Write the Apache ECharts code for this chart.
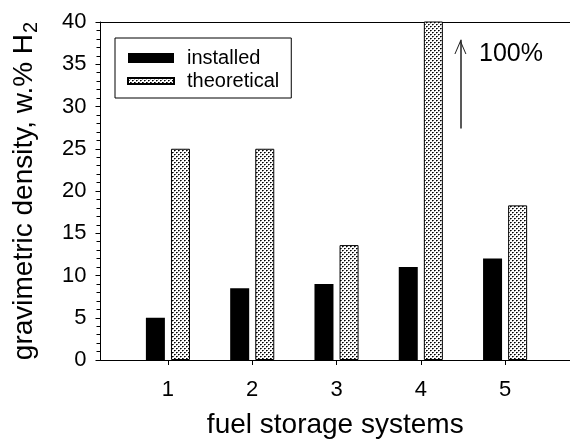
<!DOCTYPE html>
<html>
<head>
<meta charset="utf-8">
<script src="https://cdn.jsdelivr.net/npm/echarts@6/dist/echarts.min.js"></script>
<style>
  html, body { margin: 0; padding: 0; background: #fff; }
  #chart { width: 570px; height: 444px; }
</style>
</head>
<body>
<div id="chart"></div>
<script>
// fuel storage systems 1..5
const systems = [1, 2, 3, 4, 5]
const installed = [5, 8.5, 9, 11, 12]
const theoretical = [25, 25, 13.6, 100, 18.3]
const yTicks = [0, 5, 10, 15, 20, 25, 30, 35, 40]

// dotted fill like the print pattern
const dots = document.createElement('canvas')
dots.width = 4
dots.height = 4
const dctx = dots.getContext('2d')
dctx.fillStyle = '#fff'
dctx.fillRect(0, 0, 4, 4)
dctx.fillStyle = '#000'
dctx.fillRect(0, 0, 1, 1)
dctx.fillRect(2, 2, 1, 1)
dctx.fillStyle = '#555'
dctx.fillRect(1, 0, 1, 1)
dctx.fillRect(3, 2, 1, 1)
dctx.fillStyle = '#aaa'
dctx.fillRect(0, 1, 1, 1)
dctx.fillRect(2, 3, 1, 1)

const font = 'Liberation Sans'
const myChart = echarts.init(document.getElementById('chart'))

const option = {
  animation: false,
  textStyle: { fontFamily: font, color: '#000' },
  grid: { left: 99, right: 0, top: 22, bottom: 80 },
  legend: {
    orient: 'vertical',
    left: 115,
    top: 38,
    padding: [10, 12, 7, 12],
    itemGap: 3,
    itemWidth: 46,
    itemHeight: 10,
    borderColor: '#000',
    borderWidth: 1,
    textStyle: { fontSize: 20, color: '#000', fontFamily: font, padding: [0, 0, 0, 8] },
    data: [
      { name: 'installed', icon: 'rect' },
      { name: 'theoretical', icon: 'path://M0,0 H46 V6 H0 Z' }
    ]
  },
  xAxis: [
    {
      type: 'value',
      min: 0.2,
      max: 5.77,
      name: 'fuel storage systems',
      nameLocation: 'middle',
      nameGap: 51,
      nameTextStyle: { fontSize: 28, color: '#000', fontFamily: font },
      axisLine: { lineStyle: { color: '#000', width: 1 } },
      axisTick: { show: true, inside: false, length: 5, customValues: systems, lineStyle: { color: '#000' } },
      axisLabel: { customValues: systems, fontSize: 22, color: '#000', margin: 19 },
      splitLine: { show: false }
    },
    {
      type: 'value',
      position: 'top',
      min: 0.2,
      max: 5.77,
      axisLine: { show: true, lineStyle: { color: '#000', width: 1 } },
      axisTick: { show: false },
      axisLabel: { show: false },
      splitLine: { show: false }
    }
  ],
  yAxis: {
    type: 'value',
    min: 0,
    max: 40,
    interval: 5,
    name: '{a|gravimetric density, w.% H}{s|2}',
    nameLocation: 'middle',
    nameGap: 60,
    nameRotate: 90,
    nameTextStyle: {
      color: '#000',
      fontFamily: font,
      rich: {
        a: { fontSize: 28, fontFamily: font, color: '#000', lineHeight: 32 },
        s: { fontSize: 20, fontFamily: font, color: '#000', lineHeight: 32, padding: [13, 0, 0, 1] }
      }
    },
    axisLine: { show: true, lineStyle: { color: '#000', width: 1 } },
    axisTick: { show: true, inside: false, length: 5, lineStyle: { color: '#000' } },
    minorTick: { show: true, splitNumber: 5, length: 4, lineStyle: { color: '#000' } },
    axisLabel: { fontSize: 22, color: '#000', margin: 14, customValues: yTicks },
    splitLine: { show: false }
  },
  graphic: [
    {
      type: 'text',
      left: 479,
      top: 42,
      style: { text: '100%', fontSize: 25, fontFamily: font, fill: '#000' }
    }
  ],
  series: [
    {
      name: 'installed',
      type: 'bar',
      barWidth: 19,
      barGap: '32%',
      itemStyle: { color: '#000' },
      data: systems.map((s, i) => [s, installed[i]])
    },
    {
      name: 'theoretical',
      type: 'bar',
      barWidth: 19,
      clip: true,
      itemStyle: { color: { image: dots, repeat: 'repeat' }, borderColor: '#000', borderWidth: 1 },
      data: systems.map((s, i) => [s, theoretical[i]])
    },
    {
      // arrow pointing to the off-scale 100% bar
      name: 'arrow',
      type: 'line',
      data: [],
      silent: true,
      markLine: {
        silent: true,
        symbol: 'none',
        label: { show: false },
        lineStyle: { color: '#222', width: 1.5, type: 'solid' },
        data: [[{ coord: [4.47, 27.4] }, { coord: [4.47, 37.9] }]]
      },
      markPoint: {
        silent: true,
        symbol: 'path://M6,0 L12,14 L11,14 L6,2.5 L1,14 L0,14 Z',
        symbolSize: [12, 14],
        itemStyle: { color: '#222' },
        label: { show: false },
        data: [{ coord: [4.47, 37.05] }]
      }
    }
  ]
}

myChart.setOption(option)
window.addEventListener('resize', () => myChart.resize())
</script>
</body>
</html>
